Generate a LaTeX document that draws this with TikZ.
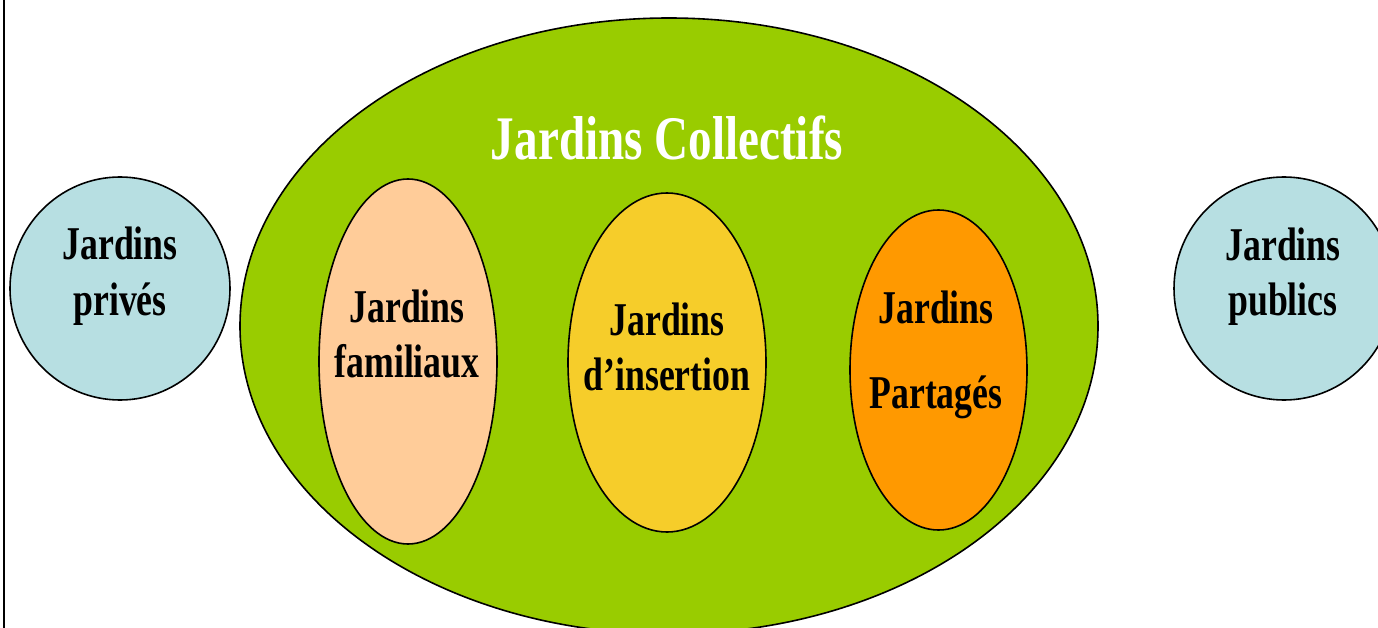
\documentclass[tikz,border=0pt]{standalone}
\usepackage{fontspec}
\usetikzlibrary{shapes.geometric}
\newfontfamily\lbl{Liberation Serif}[FakeStretch=0.76, UprightFont = * Bold]
\definecolor{grn}{RGB}{153,204,0}
\definecolor{lblue}{RGB}{183,223,226}
\definecolor{peach}{RGB}{255,204,153}
\definecolor{yel}{RGB}{246,205,42}
\definecolor{orng}{RGB}{255,153,0}
\tikzset{
  blob/.style={ellipse, draw=black, line width=1.6pt, inner sep=0pt},
  txt/.style={anchor=base, inner sep=0pt, text=black, font=\lbl\fontsize{47}{47}\selectfont},
  bigtxt/.style={anchor=base, inner sep=0pt, text=white, font=\lbl\fontsize{62}{62}\selectfont}
}
\begin{document}
\begin{tikzpicture}[x=1pt, y=-1pt]
\useasboundingbox (0,0) rectangle (1378,628);
\clip (0,0) rectangle (1378,628);
\fill[white] (0,0) rectangle (1378,628);
\draw[line width=2.5pt] (4,-2) -- (4,630);
% outer shapes
\node[blob, fill=lblue, minimum width=220pt, minimum height=223pt] (prive) at (120,288.5) {};
\node[blob, fill=lblue, minimum width=220pt, minimum height=223pt] (public) at (1284,288.5) {};
\node[blob, fill=grn, minimum width=858pt, minimum height=616pt] (coll) at (669,326) {};
% inner ellipses
\node[blob, fill=peach, minimum width=178pt, minimum height=365pt] (fam) at (408,361.5) {};
\node[blob, fill=yel, minimum width=198pt, minimum height=339pt] (ins) at (667,362.5) {};
\node[blob, fill=orng, minimum width=177pt, minimum height=320pt] (par) at (938.5,370) {};
% texts
\node[bigtxt] (collT) at (667,160) {Jardins Collectifs};
\node[txt] (priveA) at (120,260) {Jardins};
\node[txt] (priveB) at (120,315) {privés};
\node[txt] (publicA) at (1283,261) {Jardins};
\node[txt] (publicB) at (1283,316) {publics};
\node[txt] (famA) at (407,322) {Jardins};
\node[txt] (famB) at (407,377) {familiaux};
\node[txt] (insA) at (667,335) {Jardins};
\node[txt] (insB) at (667,390) {d’insertion};
\node[txt] (parA) at (936,323) {Jardins};
\node[txt] (parB) at (936,408) {Partagés};
\end{tikzpicture}
\end{document}
